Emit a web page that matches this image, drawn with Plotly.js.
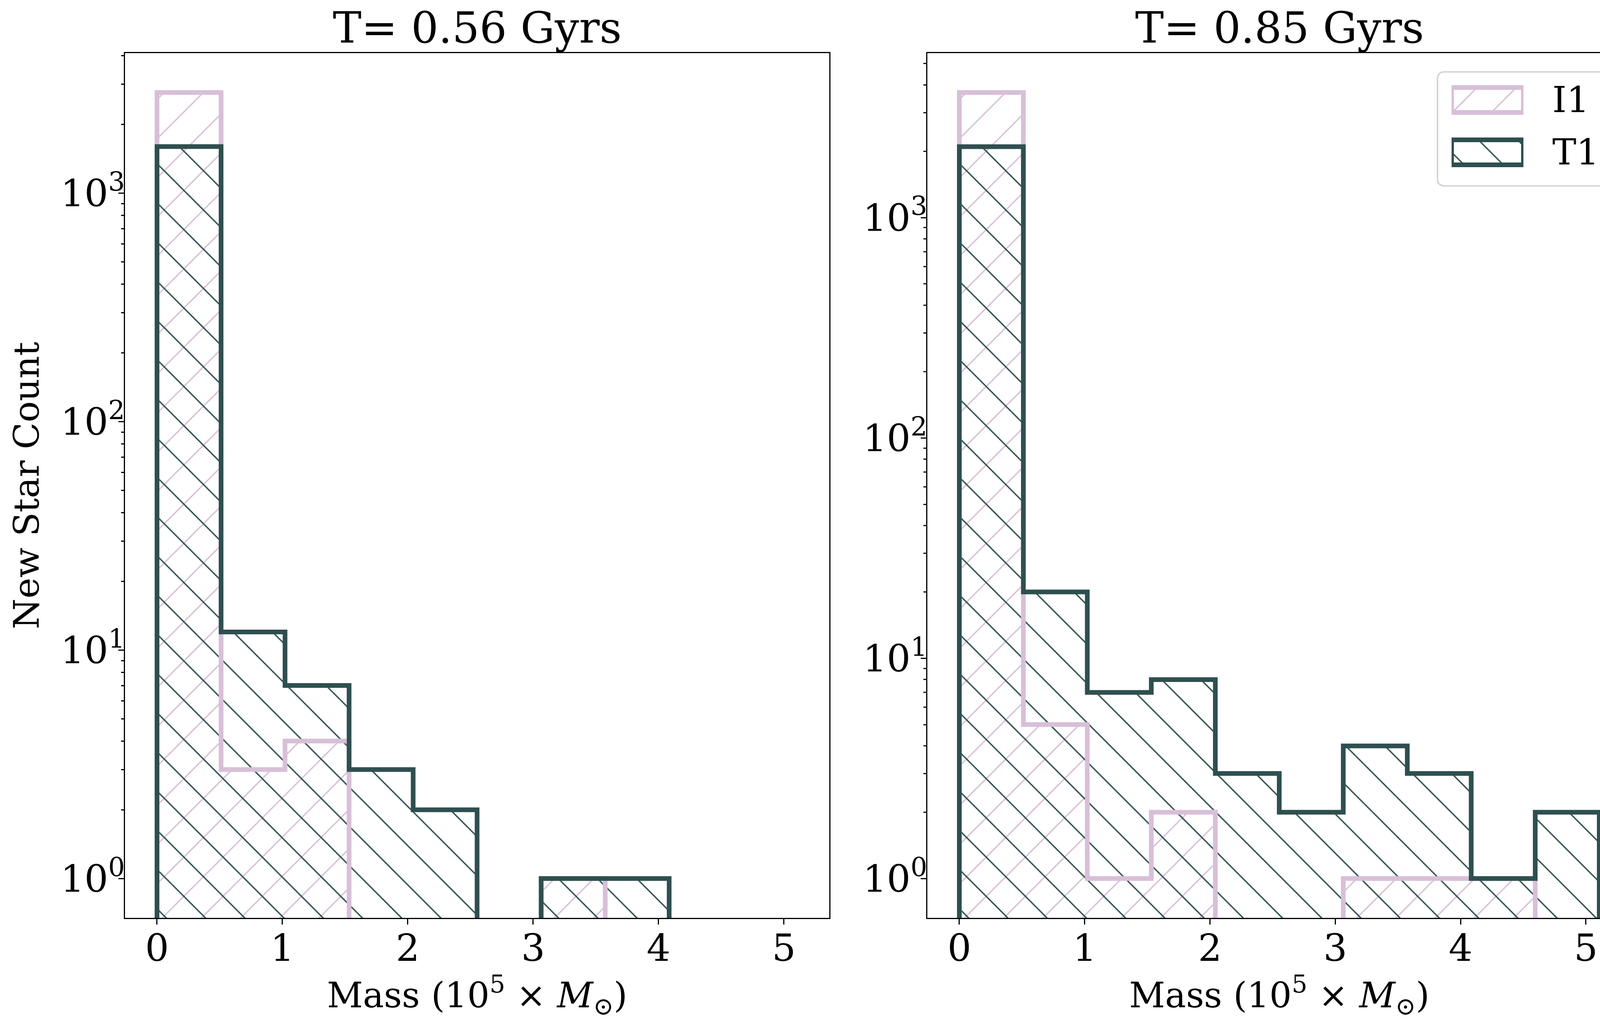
<!DOCTYPE html>
<html>
<head>
<meta charset="utf-8">
<script src="https://cdn.plot.ly/plotly-3.0.1.min.js"></script>
<style>
  html, body { margin: 0; padding: 0; background: #ffffff; }
  #plot { width: 4204px; height: 2614px; }
</style>
</head>
<body>
<div id="plot"></div>
<script>
// histogram bin edges, mass in units of 1e5 Msun (same bins in both panels)
const binEdges = [0, 0.511, 1.021, 1.532, 2.043, 2.553, 3.064, 3.575, 4.085, 4.596, 5.107];

// new star counts per bin at T = 0.56 Gyrs
const countsI1Early = [2760, 3, 4, 0, 0, 0, 1, 0, 0, 0];
const countsT1Early = [1600, 12, 7, 3, 2, 0, 1, 1, 0, 0];

// new star counts per bin at T = 0.85 Gyrs
const countsI1Late = [3700, 5, 1, 2, 0, 0, 1, 1, 1, 0];
const countsT1Late = [2100, 20, 7, 8, 3, 2, 4, 3, 1, 2];

const panelTitles = ["T= 0.56 Gyrs", "T= 0.85 Gyrs"];
const seriesNames = ["I1", "T1"];
const xTickVals = [0, 1, 2, 3, 4, 5];
const yTickVals = [1, 10, 100, 1000];
const yTickText = ["10<sup>0</sup>", "10<sup>1</sup>", "10<sup>2</sup>", "10<sup>3</sup>"];

const PINK = "#d8bfd8";
const DARK = "#2f4f4f";
const FONT = "DejaVu Serif";
const W = 4204;
const H = 2614;
const FLOOR = 0.01; // zero counts drop the step line below the axis

// pixel -> paper helpers
const px = (x) => x / W;
const py = (y) => 1 - y / H;

const centers = binEdges.slice(0, -1).map((e, i) => (e + binEdges[i + 1]) / 2);
const widths = binEdges.slice(0, -1).map((e, i) => binEdges[i + 1] - e);

// minor ticks at 2..9 of every decade
let minorVals = [];
for (let d = 1; d <= 1000; d *= 10) {
  for (let m = 2; m <= 9; m++) minorVals.push(m * d);
}

const hatch = (shape) => ({ shape: shape, size: 71, solidity: 0.05, fillmode: "replace" });

function hatchBars(counts, color, shape, xa, ya) {
  return {
    type: "bar",
    x: centers,
    y: counts.map((c) => (c > 0 ? c : null)),
    width: widths,
    xaxis: xa,
    yaxis: ya,
    showlegend: false,
    hoverinfo: "skip",
    marker: { color: color, line: { width: 0 }, pattern: hatch(shape) },
  };
}

function stepLine(counts, color, xa, ya) {
  const xs = [binEdges[0]].concat(binEdges);
  const ys = [FLOOR]
    .concat(counts.map((c) => (c > 0 ? c : FLOOR)))
    .concat([FLOOR]);
  return {
    type: "scatter",
    mode: "lines",
    x: xs,
    y: ys,
    xaxis: xa,
    yaxis: ya,
    showlegend: false,
    hoverinfo: "skip",
    line: { color: color, width: 12, shape: "hv" },
  };
}

// legend swatches, drawn as bars in a small hidden subplot
function swatch(row, color, shape) {
  return {
    type: "bar",
    orientation: "h",
    x: [1],
    y: [row],
    base: 0,
    width: 0.478,
    xaxis: "x3",
    yaxis: "y3",
    showlegend: false,
    hoverinfo: "skip",
    marker: { color: color, line: { color: color, width: 12 }, pattern: hatch(shape) },
  };
}

const traces = [
  hatchBars(countsI1Early, PINK, "/", "x", "y"),
  hatchBars(countsT1Early, DARK, "\\", "x", "y"),
  stepLine(countsI1Early, PINK, "x", "y"),
  stepLine(countsT1Early, DARK, "x", "y"),
  hatchBars(countsI1Late, PINK, "/", "x2", "y2"),
  hatchBars(countsT1Late, DARK, "\\", "x2", "y2"),
  stepLine(countsI1Late, PINK, "x2", "y2"),
  stepLine(countsT1Late, DARK, "x2", "y2"),
  swatch(1, PINK, "/"),
  swatch(0, DARK, "\\"),
];

// matplotlib-like 5% autoscale padding
const span = binEdges[binEdges.length - 1] - binEdges[0];
const xRange = [binEdges[0] - 0.05 * span, binEdges[binEdges.length - 1] + 0.05 * span];
function logRange(a, b) {
  const top = Math.log10(Math.max(...a, ...b));
  return [-0.05 * top, top * 1.05];
}

const massTitle = "Mass (10<sup>5</sup> × <i>M</i><sub>⊙</sub>)";
const tickFont = { family: FONT, size: 96, color: "#000" };
const labelFont = { family: FONT, size: 90, color: "#000" };

function xAxis(domain, anchor) {
  return {
    domain: domain,
    anchor: anchor,
    range: xRange,
    tickmode: "array",
    tickvals: xTickVals,
    ticks: "outside",
    ticklen: 14,
    tickwidth: 3,
    tickcolor: "#000",
    ticklabelstandoff: -22,
    showline: true,
    linewidth: 3,
    linecolor: "#000",
    mirror: true,
    showgrid: false,
    zeroline: false,
    tickfont: tickFont,
    title: { text: massTitle, font: labelFont, standoff: 12 },
  };
}

function yAxis(range, anchor, title) {
  const ax = {
    type: "log",
    domain: [py(2350), py(136)],
    anchor: anchor,
    range: range,
    tickmode: "array",
    tickvals: yTickVals,
    ticktext: yTickText,
    ticks: "outside",
    ticklen: 14,
    tickwidth: 3,
    tickcolor: "#000",
    ticklabelstandoff: -36,
    minor: {
      tickmode: "array",
      tickvals: minorVals,
      ticks: "outside",
      ticklen: 7,
      tickwidth: 3,
      tickcolor: "#000",
      showgrid: false,
    },
    showline: true,
    linewidth: 3,
    linecolor: "#000",
    mirror: true,
    showgrid: false,
    zeroline: false,
    tickfont: tickFont,
  };
  if (title) ax.title = { text: title, font: labelFont, standoff: 26 };
  return ax;
}

// rounded legend frame, in paper coordinates
function roundedRect(x0, y0, x1, y1, r) {
  const X = (v) => px(v).toFixed(5);
  const Y = (v) => py(v).toFixed(5);
  return (
    "M" + X(x0 + r) + "," + Y(y0) +
    " L" + X(x1 - r) + "," + Y(y0) +
    " Q" + X(x1) + "," + Y(y0) + " " + X(x1) + "," + Y(y0 + r) +
    " L" + X(x1) + "," + Y(y1 - r) +
    " Q" + X(x1) + "," + Y(y1) + " " + X(x1 - r) + "," + Y(y1) +
    " L" + X(x0 + r) + "," + Y(y1) +
    " Q" + X(x0) + "," + Y(y1) + " " + X(x0) + "," + Y(y1 - r) +
    " L" + X(x0) + "," + Y(y0 + r) +
    " Q" + X(x0) + "," + Y(y0) + " " + X(x0 + r) + "," + Y(y0) + " Z"
  );
}

const titleFont = { family: FONT, size: 110, color: "#000" };
const legendFont = { family: FONT, size: 92, color: "#000" };

const layout = {
  width: W,
  height: H,
  margin: { l: 0, r: 0, t: 0, b: 0 },
  paper_bgcolor: "#ffffff",
  plot_bgcolor: "rgba(0,0,0,0)",
  barmode: "overlay",
  bargap: 0,
  showlegend: false,
  xaxis: xAxis([px(320), px(2123)], "y"),
  yaxis: yAxis(logRange(countsI1Early, countsT1Early), "x", "New Star Count"),
  xaxis2: xAxis([px(2374), px(4176)], "y2"),
  yaxis2: yAxis(logRange(countsI1Late, countsT1Late), "x2", null),
  xaxis3: { domain: [px(3716), px(3900)], anchor: "y3", range: [0, 1], visible: false, fixedrange: true },
  yaxis3: { domain: [py(457), py(189)], anchor: "x3", range: [-0.5, 1.5], visible: false, fixedrange: true },
  shapes: [
    {
      type: "path",
      xref: "paper",
      yref: "paper",
      path: roundedRect(3680, 184, 4128, 476, 19),
      line: { color: "#d6d6d6", width: 4 },
      fillcolor: "rgba(0,0,0,0)",
      layer: "above",
    },
  ],
  annotations: [
    { text: panelTitles[0], x: px((320 + 2123) / 2), y: py(137), xref: "paper", yref: "paper",
      xanchor: "center", yanchor: "bottom", showarrow: false, font: titleFont },
    { text: panelTitles[1], x: px((2374 + 4176) / 2), y: py(137), xref: "paper", yref: "paper",
      xanchor: "center", yanchor: "bottom", showarrow: false, font: titleFont },
    { text: seriesNames[0], x: px(3972), y: py(256), xref: "paper", yref: "paper",
      xanchor: "left", yanchor: "middle", showarrow: false, font: legendFont },
    { text: seriesNames[1], x: px(3972), y: py(390), xref: "paper", yref: "paper",
      xanchor: "left", yanchor: "middle", showarrow: false, font: legendFont },
  ],
};

Plotly.newPlot("plot", traces, layout, { displayModeBar: false });
</script>
</body>
</html>
